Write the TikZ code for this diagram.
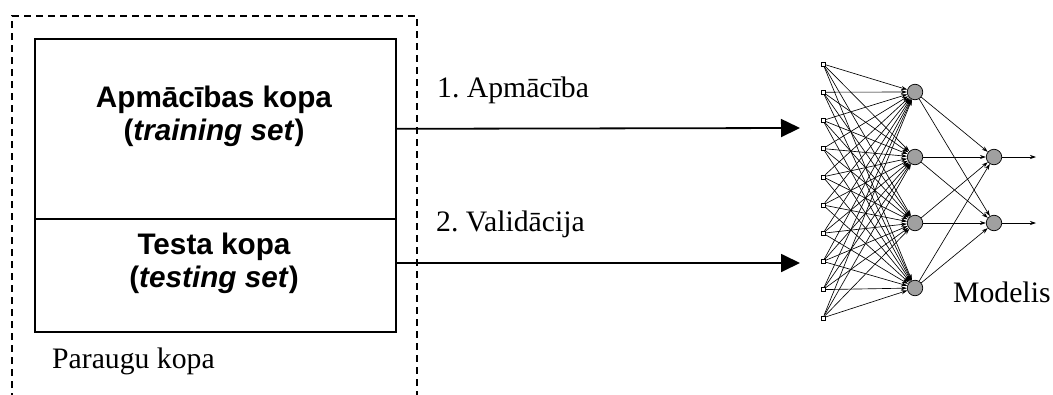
\documentclass[tikz,border=0pt]{standalone}
\usepackage{fontspec}
\setmainfont{Liberation Serif}
\setsansfont{Liberation Sans}
\usetikzlibrary{arrows.meta}
\definecolor{nodegray}{RGB}{160,160,160}
\frenchspacing
\begin{document}
\begin{tikzpicture}[x=1pt,y=-1pt,
  setbox/.style={draw,line width=1.6pt,minimum width=361pt,inner sep=0pt,anchor=north west},
  boxtext/.style={font=\fontsize{29.7}{33}\selectfont\sffamily\bfseries,align=center},
  plaintext/.style={font=\fontsize{29.7}{34}\selectfont,inner sep=0pt},
  flow/.style={line width=1.8pt,-{Triangle[length=19pt,width=18pt]}},
  inunit/.style={draw,fill=white,line width=0.6pt,minimum size=4pt,inner sep=0pt},
  neuron/.style={draw,fill=nodegray,line width=0.7pt,circle,minimum size=15.5pt,inner sep=0pt},
  link/.style={line width=0.65pt,-{Stealth[length=6pt,width=4pt]}}]
\useasboundingbox (0,0) rectangle (1053,394);

% outer dashed frame, open at the bottom
\draw[line width=1.5pt,dash pattern=on 7pt off 5pt] (12,400) -- (12,16) -- (417,16) -- (417,400);

% the two sample sets
\node[setbox,minimum height=180pt] (train) at (34,38) {};
\node[setbox,minimum height=113pt] (test) at (34,218) {};
\node[boxtext] (traintxt) at (214,116) {Apmācības kopa\\(\textit{training set})};
\node[boxtext] (testtxt) at (214,263) {Testa kopa\\(\textit{testing set})};
\node[plaintext,anchor=west] (sample) at (52,361) {Paraugu kopa};

% targets of the flow arrows
\coordinate (t1) at (800,128);
\coordinate (t2) at (800,263);
\draw[flow] (train.east) -- (t1);
\draw[flow] (test.east |- t2) -- (t2);
\node[plaintext,anchor=west] (lab1) at (437,90) {1. Apmācība};
\node[plaintext,anchor=west] (lab2) at (436,224) {2. Validācija};

% neural network model
\foreach \i in {1,...,10} {
  \node[inunit] (i\i) at (823,{64+(\i-1)*28.2}) {};
}
\foreach \j/\y in {1/92,2/157,3/223,4/288} {
  \node[neuron] (h\j) at (915,\y) {};
}
\foreach \k/\y in {1/157,2/223} {
  \node[neuron] (o\k) at (994,\y) {};
  \coordinate (out\k) at (1036,\y);
}
\foreach \i in {1,...,10} {
  \foreach \j in {1,...,4} {
    \draw[link] (i\i) -- (h\j);
  }
}
\foreach \j in {1,...,4} {
  \foreach \k in {1,2} {
    \draw[link] (h\j) -- (o\k);
  }
}
\foreach \k in {1,2} {
  \draw[link] (o\k) -- (out\k);
}
\node[plaintext,anchor=west] (model) at (953,292) {Modelis};
\end{tikzpicture}
\end{document}
